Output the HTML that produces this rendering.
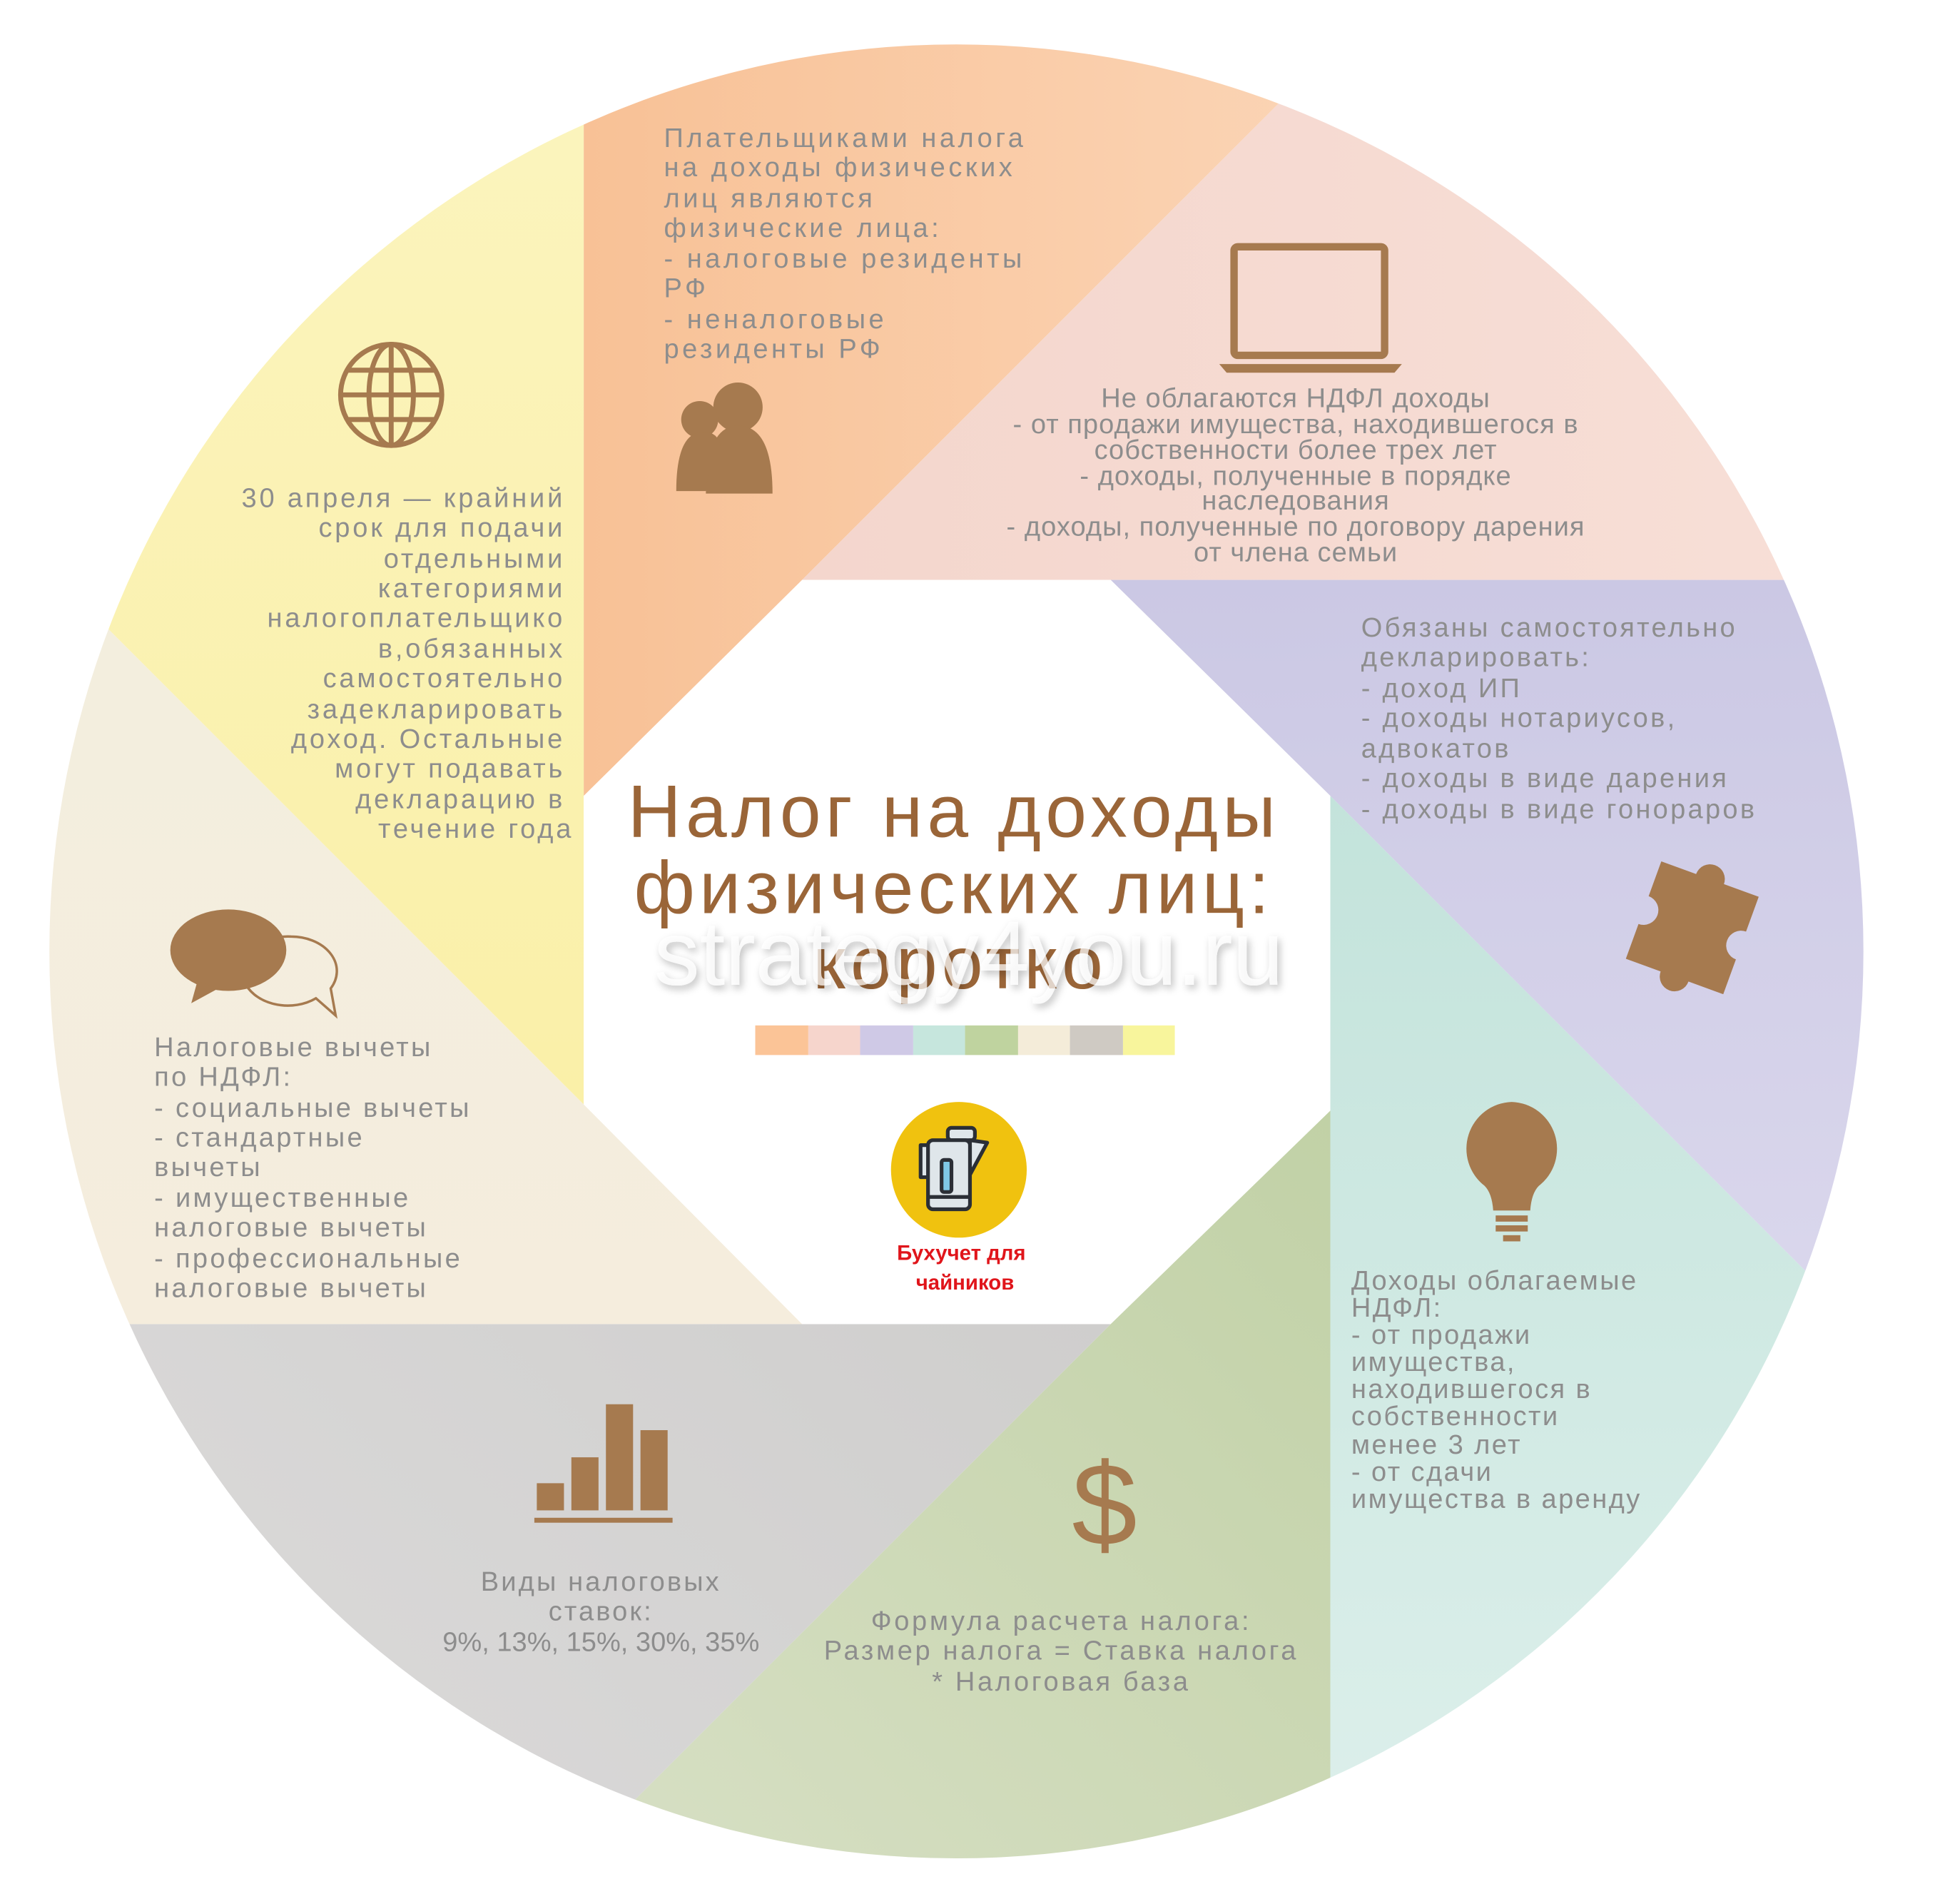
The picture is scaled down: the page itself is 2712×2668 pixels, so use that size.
<!DOCTYPE html>
<html><head><meta charset="utf-8"><style>
html,body{margin:0;padding:0;background:#fff;width:2712px;height:2668px;overflow:hidden;}
svg{display:block;}
text{font-family:"Liberation Sans","DejaVu Sans",sans-serif;}
.t{fill:#8d8d8d;font-size:22px;}
</style></head><body>
<svg width="2712" height="2668" viewBox="0 0 1568 1543" preserveAspectRatio="none" xmlns="http://www.w3.org/2000/svg">
<defs>
<clipPath id="c"><circle cx="775" cy="771" r="735"/></clipPath>
<linearGradient id="gO" x1="0" y1="0" x2="1" y2="0"><stop offset="0" stop-color="#f8c196"/><stop offset="1" stop-color="#fde2cb"/></linearGradient>
<linearGradient id="gP" x1="0" y1="0" x2="1" y2="0"><stop offset="0" stop-color="#f4d6cd"/><stop offset="1" stop-color="#f8e0d8"/></linearGradient>
<linearGradient id="gU" x1="0" y1="0" x2="0" y2="1"><stop offset="0" stop-color="#cbc8e4"/><stop offset="1" stop-color="#dfdcef"/></linearGradient>
<linearGradient id="gT" x1="0" y1="0" x2="0" y2="1"><stop offset="0" stop-color="#c3e3db"/><stop offset="1" stop-color="#e0f1ed"/></linearGradient>
<linearGradient id="gG" x1="1" y1="0" x2="0" y2="1"><stop offset="0" stop-color="#c1d1a6"/><stop offset="1" stop-color="#e1e6d2"/></linearGradient>
<linearGradient id="gR" x1="1" y1="0" x2="0" y2="1"><stop offset="0" stop-color="#cfcecd"/><stop offset="1" stop-color="#e4e3e3"/></linearGradient>
<linearGradient id="gB" x1="0" y1="0" x2="0" y2="1"><stop offset="0" stop-color="#f2eedf"/><stop offset="1" stop-color="#f5eddd"/></linearGradient>
<linearGradient id="gY" x1="0" y1="0" x2="0" y2="1"><stop offset="0" stop-color="#fcf6c9"/><stop offset="1" stop-color="#faf0a8"/></linearGradient>
<filter id="sh" x="-10%" y="-10%" width="120%" height="140%"><feDropShadow dx="2" dy="3" stdDeviation="3" flood-color="#000" flood-opacity="0.35"/></filter>
</defs>
<g clip-path="url(#c)">
<polygon fill="url(#gO)" points="473,645 650,470 1500,-380 473,-380"/>
<polygon fill="url(#gP)" points="650,470 1600,470 1600,-480"/>
<polygon fill="url(#gU)" points="900,470 1078,645 1678,1245 1678,470"/>
<polygon fill="url(#gT)" points="1078,645 1078,1600 2033,1600"/>
<polygon fill="url(#gG)" points="1078,900 900,1073 200,1773 1078,1773"/>
<polygon fill="url(#gR)" points="900,1073 -100,1073 -100,2073"/>
<polygon fill="url(#gB)" points="650,1073 473,895 -100,322 -100,1073"/>
<polygon fill="url(#gY)" points="473,895 473,-380 -100,-380 -100,322"/>
<polygon fill="#fff" points="650,470 900,470 1078,645 1078,900 900,1073 650,1073 473,895 473,645"/>
</g>

<text class="t" font-size="23" letter-spacing="2.6">
<tspan x="538" y="119">Плательщиками налога</tspan><tspan x="538" y="143">на доходы физических</tspan><tspan x="538" y="168">лиц являются</tspan><tspan x="538" y="192">физические лица:</tspan><tspan x="538" y="217">- налоговые резиденты</tspan><tspan x="538" y="241">РФ</tspan><tspan x="538" y="266">- неналоговые</tspan><tspan x="538" y="290">резиденты РФ</tspan></text>

<text class="t" font-size="19" text-anchor="middle" letter-spacing="0.6">
<tspan x="1050" y="330">Не облагаются НДФЛ доходы</tspan><tspan x="1050" y="351">- от продажи имущества, находившегося в</tspan><tspan x="1050" y="372">собственности более трех лет</tspan><tspan x="1050" y="393">- доходы, полученные в порядке</tspan><tspan x="1050" y="413">наследования</tspan><tspan x="1050" y="434">- доходы, полученные по договору дарения</tspan><tspan x="1050" y="455">от члена семьи</tspan></text>

<text class="t" font-size="22" letter-spacing="1.9">
<tspan x="1103" y="516">Обязаны самостоятельно</tspan><tspan x="1103" y="540">декларировать:</tspan><tspan x="1103" y="565">-  доход ИП</tspan><tspan x="1103" y="589">- доходы нотариусов,</tspan><tspan x="1103" y="614">адвокатов</tspan><tspan x="1103" y="638">- доходы в виде дарения</tspan><tspan x="1103" y="663">- доходы в виде гонораров</tspan></text>

<text class="t" font-size="21" letter-spacing="1.4">
<tspan x="1095" y="1045">Доходы облагаемые</tspan><tspan x="1095" y="1067">НДФЛ:</tspan><tspan x="1095" y="1089">- от продажи</tspan><tspan x="1095" y="1111">имущества,</tspan><tspan x="1095" y="1133">находившегося в</tspan><tspan x="1095" y="1155">собственности</tspan><tspan x="1095" y="1178">менее 3 лет</tspan><tspan x="1095" y="1200">- от сдачи</tspan><tspan x="1095" y="1222">имущества в аренду</tspan></text>

<text class="t" font-size="22" text-anchor="middle" letter-spacing="2.1">
<tspan x="860" y="1321">Формула расчета налога:</tspan><tspan x="860" y="1345">Размер налога = Ставка налога</tspan><tspan x="860" y="1370">* Налоговая база</tspan></text>

<text class="t" font-size="22" text-anchor="middle">
<tspan x="487" y="1289" letter-spacing="1.8">Виды налоговых</tspan><tspan x="487" y="1313" letter-spacing="1.8">ставок:</tspan><tspan x="487" y="1338">9%, 13%, 15%, 30%, 35%</tspan></text>

<text class="t" font-size="22" letter-spacing="1.9">
<tspan x="125" y="856">Налоговые вычеты</tspan><tspan x="125" y="880">по НДФЛ:</tspan><tspan x="125" y="905">- социальные вычеты</tspan><tspan x="125" y="929">- стандартные</tspan><tspan x="125" y="953">вычеты</tspan><tspan x="125" y="978">- имущественные</tspan><tspan x="125" y="1002">налоговые вычеты</tspan><tspan x="125" y="1027">- профессиональные</tspan><tspan x="125" y="1051">налоговые вычеты</tspan></text>

<text class="t" font-size="22" text-anchor="end" letter-spacing="2.2">
<tspan x="458" y="411">30 апреля — крайний</tspan><tspan x="458" y="435">срок для подачи</tspan><tspan x="458" y="460">отдельными</tspan><tspan x="458" y="484">категориями</tspan><tspan x="458" y="508">налогоплательщико</tspan><tspan x="458" y="533">в,обязанных</tspan><tspan x="458" y="557">самостоятельно</tspan><tspan x="458" y="582">задекларировать</tspan><tspan x="458" y="606">доход. Остальные</tspan><tspan x="458" y="630">могут подавать</tspan><tspan x="458" y="655">декларацию в</tspan><tspan x="465" y="679">течение года</tspan></text>

<text fill="#9a6538" font-size="60" text-anchor="middle" letter-spacing="3.6">
<tspan x="773" y="678">Налог на доходы</tspan><tspan x="773" y="740">физических лиц:</tspan><tspan x="778" y="801">коротко</tspan></text>
<text x="785" y="798" font-size="74" text-anchor="middle" fill="#fff" fill-opacity="0.7" filter="url(#sh)">strategy4you.ru</text>

<g>
<rect x="612" y="831" width="43" height="24" fill="#fbc497"/>
<rect x="655" y="831" width="42" height="24" fill="#f6d5cc"/>
<rect x="697" y="831" width="43" height="24" fill="#cfc9e6"/>
<rect x="740" y="831" width="42" height="24" fill="#c6e6dd"/>
<rect x="782" y="831" width="43" height="24" fill="#bfd39f"/>
<rect x="825" y="831" width="42" height="24" fill="#f4ecd9"/>
<rect x="867" y="831" width="43" height="24" fill="#cfcac3"/>
<rect x="910" y="831" width="42" height="24" fill="#f8f59c"/>
</g>

<circle cx="777" cy="948" r="55" fill="#f0c20f"/>
<g stroke="#2b2f36" stroke-width="3" fill="#dfe6ea" stroke-linejoin="round">
<rect x="768" y="914" width="22" height="10" rx="3"/>
<path d="M752 954 h-6 v-26 h6"/>
<path d="M786 924 l14 2 l-14 26 z"/>
<rect x="752" y="924" width="34" height="56" rx="4"/>
<line x1="752" y1="970" x2="786" y2="970"/>
<rect x="763" y="940" width="8" height="26" rx="2" fill="#7fc8e6"/>
</g>
<text x="779" y="1021" font-size="17" font-weight="bold" fill="#e0151b" text-anchor="middle">Бухучет для</text>
<text x="782" y="1045" font-size="17" font-weight="bold" fill="#e0151b" text-anchor="middle">чайников</text>

<g fill="none" stroke="#a67a4f" stroke-width="4">
<circle cx="317" cy="320" r="41"/>
<ellipse cx="317" cy="320" rx="18" ry="41"/>
<line x1="317" y1="279" x2="317" y2="361"/>
<line x1="276" y1="320" x2="358" y2="320"/>
<line x1="282" y1="300" x2="352" y2="300"/>
<line x1="282" y1="340" x2="352" y2="340"/>
</g>
<path d="M236 759 a37 28 0 1 0 20 50 l16 14 l-4 -22 a37 28 0 0 0 -32 -42 z" fill="none" stroke="#a67a4f" stroke-width="2"/>
<g fill="#a67a4f">
<circle cx="598" cy="330" r="20"/>
<path d="M572 400 q0 -55 26 -55 q28 0 28 55 z"/>
<circle cx="567" cy="340" r="15"/>
<path d="M548 398 q0 -48 22 -48 q12 0 14 12 q-10 15 -12 36 z"/>
<rect x="1000" y="200" width="122" height="88" rx="3" fill="none" stroke="#a67a4f" stroke-width="6"/>
<path d="M988 295 h148 l-6 7 h-136 z"/>
<path transform="rotate(20 1372 750)" d="M1330 710 h30 a12 12 0 1 1 24 0 h30 v30 a12 12 0 1 0 0 24 v30 h-30 a12 12 0 1 1 -24 0 h-30 v-30 a12 12 0 1 0 0 -24 z"/>
<ellipse cx="185" cy="770" rx="47" ry="33"/>
<path d="M160 795 l-5 18 l22 -12 z"/>
<path d="M1225 893 a38 38 0 0 1 22 68 q-6 6 -7 20 h-30 q-1 -14 -7 -20 a38 38 0 0 1 22 -68 z"/>
<rect x="1212" y="985" width="26" height="5"/>
<rect x="1212" y="993" width="26" height="5"/>
<rect x="1218" y="1001" width="14" height="5"/>
<rect x="435" y="1202" width="22" height="22"/>
<rect x="463" y="1181" width="22" height="43"/>
<rect x="491" y="1138" width="22" height="86"/>
<rect x="519" y="1159" width="22" height="65"/>
<rect x="433" y="1230" width="112" height="4"/>
</g>
<text x="895" y="1252" font-size="95" fill="#a67a4f" text-anchor="middle">$</text>
</svg>
</body></html>
